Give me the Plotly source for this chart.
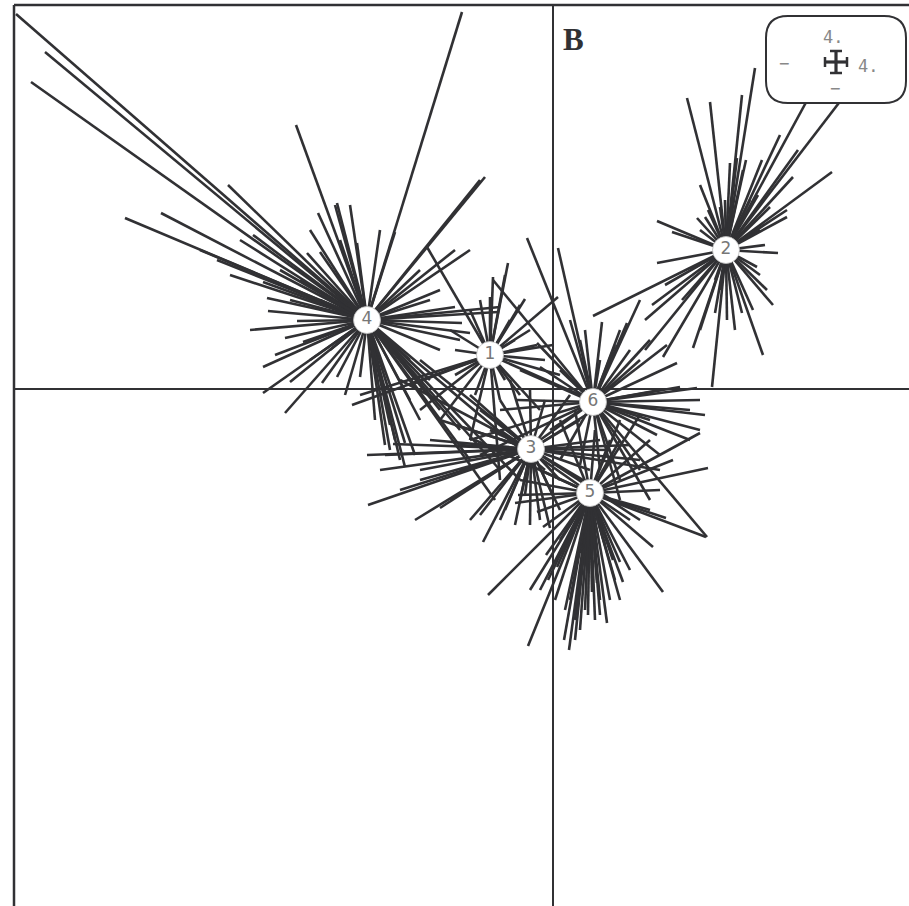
import plotly.graph_objects as go

# ---- data (factorial map coordinates) ----
class_labels = ["1", "2", "3", "4", "5", "6"]
centers_x = [-0.63, 1.73, -0.22, -1.86, 0.37, 0.40]
centers_y = [0.34, 1.39, -0.60, 0.69, -1.04, -0.13]

g1_x = [-1.26, -0.63, -0.45, -0.28, 0.05, 0.00, -0.16, -2.01, -1.93, -1.43, -1.33, -1.13, -0.83, -0.53,
        -0.08, 0.07, 0.27, -0.73, -0.83, -0.33, -0.48, -1.03, -0.98, -0.53, -0.33, -0.13, -0.78, -0.23, -0.60,
        -0.43, -0.38, -0.98, -0.93, -0.48]
g1_y = [1.42, 0.92, 1.26, 0.90, 0.92, 0.44, 0.44, -0.16, -0.06, 0.04, -0.21, -0.31, -0.51, -0.91,
        0.29, 0.14, -0.06, 0.89, 0.79, 0.84, 1.14, 0.59, 0.14, -0.11, -0.06, -0.21, -0.06, 0.59, 1.12,
        0.69, 0.49, 0.39, 0.24, 0.09]

g2_x = [1.34, 1.57, 1.89, 2.02, 1.93, 1.90, 2.27, 2.09, 2.45, 2.57, 2.92, 2.40, 2.79, 2.34, 2.17, 1.04,
        1.19, 1.44, 1.52, 2.12, 2.25, 2.04, 1.04, 0.40, 0.92, 0.99, 1.40, 1.59, 1.74, 1.62, 1.89, 2.10,
        2.20, 2.00, 1.10, 0.92, 1.55, 1.67, 1.77, 1.84, 2.07, 2.34, 1.29, 1.47, 1.82, 1.12, 2.14, 1.67, 2.05,
        1.47, 1.37, 1.62, 2.07, 1.97, 1.72, 1.47]
g2_y = [2.91, 2.87, 2.94, 3.21, 2.29, 2.19, 2.54, 2.29, 2.39, 2.94, 2.94, 2.12, 2.17, 1.79, 1.82, 1.68,
        1.57, 1.71, 1.72, 1.44, 1.36, 1.22, 1.26, 0.73, 0.69, 0.84, 0.41, 0.02, 0.69, 0.76, 0.76, 0.34,
        0.84, 0.79, 0.32, 0.39, 1.79, 1.82, 2.26, 2.31, 1.59, 1.72, 0.89, 0.59, 0.59, 1.04, 0.99, 0.99, 1.94,
        1.59, 1.19, 1.09, 1.14, 1.89, 1.89, 2.04]

g3_x = [-1.86, -1.68, -1.85, -1.38, -1.33, -1.13, -1.60, -0.28, -0.33, -0.48, -0.13, -0.03, -0.73, -0.70,
        -1.13, -1.53, -1.33, 0.47, 0.87, 1.07, 0.57, 0.27, -0.53, -0.83, -0.63, -0.93, -0.48, 0.02, 0.47,
        0.67, 0.87, 0.07, -1.23, -0.43, -0.23, -0.08, 0.17, -0.98,
        -1.73, -1.53, -1.33, -1.03, -0.83, -0.53, -0.38, -0.23, 0.07, 0.37, 0.57, 0.77, -0.93, -0.73]
g3_y = [-0.66, -0.66, -1.16, -1.31, -0.81, -0.31, -0.55, -1.06, -1.11, -1.21, -1.31, -1.39, -1.26, -1.53,
        -1.19, 0.09, 0.29, -0.51, -0.71, -0.81, -0.11, -0.31, -0.11, -0.06, -0.41, -0.81, -0.91, -1.11, -1.01,
        -1.16, -1.31, -0.91, -0.51, 0.09, -0.01, -0.11, -0.06, -0.36,
        -0.81, -1.01, -0.91, -1.11, -1.31, -1.31, -1.36, -1.36, -1.21, -0.81, -0.61, -0.56, -0.56, -0.21]

g4_x = [-5.37, -5.08, -5.22, -3.25, -3.00, -4.28, -3.92, -3.36, -2.90, -2.86, -2.85, -2.56, -2.68, -2.50,
        -2.90, -2.90, -2.63, -2.68, -2.31, -2.16, -2.57, -2.35, -2.16, -2.33, -2.46, -1.96, -1.58, -0.68,
        -0.73, -0.91, -1.93, -0.98, -0.53, -0.55, -0.91, -0.83, -1.48, -1.48, -1.58, -1.68, -0.98, -1.33,
        -1.13, -1.73, -2.03, -2.18, -3.53, -3.13, -3.23, -0.53, -0.33, -0.58, -0.83, -1.13, -1.33, -0.93,
        -0.08, -1.23, -1.43,
        -2.53, -2.33, -2.63, -3.03, -2.78, -2.43, -2.23, -2.08, -1.78, -1.63, -1.43, -1.13, -0.93, -1.23,
        -0.83, -2.13, -2.43, -2.33, -2.73, -1.53, -1.63, -1.38]
g4_y = [3.75, 3.37, 3.07, 2.04, 1.54, 1.71, 1.76, 1.29, 1.07, 0.91, 0.78, 0.68, 0.51, 0.47,
        0.22, -0.04, 0.07, -0.24, 0.06, 0.12, 2.64, 1.76, 1.86, 1.37, 1.36, 1.46, 1.57, 2.12,
        2.09, 3.77, 0.12, 0.82, 0.82, 0.77, 0.66, 0.56, -0.54, -0.78, -0.51, -0.56, 1.39, 1.19,
        0.99, 1.59, 1.84, 1.84, 1.39, 1.49, 1.14, -0.81, -0.91, -1.11, -0.71, -0.21, -0.31, -0.41,
        -0.81, 0.09, 0.29,
        1.09, 0.89, 0.89, 0.59, 0.34, 0.29, 0.39, -0.06, -0.31, -0.36, -0.11, 0.39, 0.49, 0.89,
        1.39, 1.49, 1.59, 1.09, 1.19, -0.71, -0.61, -0.66]

g5_x = [-0.65, -0.25, 0.11, 0.16, 0.39, 0.54, 0.70, 1.10, 1.00, 1.53, 1.13, 1.20, 1.55, -0.07, 0.04,
        0.27, 0.32, 0.44, 0.60, 0.67, -0.16, -0.10, -0.38, -0.35, 1.47, 0.07, 0.22, 0.67, 0.87, -0.53,
        -0.78, 0.17, 0.22, 0.35, 0.47, -0.05, -0.23, 0.77, 0.97, 1.07, -0.13, 0.57, 0.42, -0.33, 0.07,
        0.52, 0.62,
        0.22, 0.27, 0.32, 0.42, 0.47, 0.57, 0.12, 0.02, 0.67, 0.77, -0.13, 0.67, 0.97]
g5_y = [-2.06, -2.57, -2.51, -2.61, -2.03, -2.34, -1.93, -2.03, -1.58, -1.48, -1.29, -0.71, -0.79, -1.66,
        -1.78, -1.64, -1.74, -1.94, -1.71, -1.73, -1.23, -1.38, -1.14, -1.06, -0.44, -0.31, -0.21, -0.31,
        -0.26, -0.41, -0.51, -2.11, -2.31, -2.26, -2.11, -1.91, -2.01, -1.31, -1.21, -1.01, -0.81, -0.51,
        -0.41, -0.91, -1.51, -1.56, -1.91,
        -2.51, -2.41, -2.21, -2.31, -2.26, -2.11, -2.21, -2.11, -2.11, -1.81, -2.01, -0.51, -0.51]

g6_x = [-0.26, 0.05, 0.49, 0.74, 0.97, 1.14, -0.16, -0.36, -0.13, 1.24, 1.27, 1.44, 1.47, 1.52, -0.73,
        -0.83, 0.47, 0.67, 1.54, 1.04, 0.17, 0.32, 0.62, 0.87, 0.07, -0.53, -0.13, 0.07, 0.87, 1.07, 1.37,
        0.27, 0.97, -0.33, -0.60, 0.87,
        0.67, 0.77, 1.07, 1.37, 0.47, 0.27, 0.97, -0.03, 0.67, 1.47]
g6_y = [1.51, 1.41, 0.67, 0.66, 0.49, 0.44, 0.46, -0.11, 0.22, 0.26, 0.02, 0.01, -0.41, -0.26, -0.66,
        -0.51, -0.81, -0.91, -1.48, -0.46, 0.69, 0.59, 0.44, 0.29, 0.19, -0.21, -0.51, -0.71, -0.81, -0.66,
        -0.21, -0.76, -1.11, 0.19, 1.09, 0.89,
        0.59, 0.39, -0.01, -0.51, 0.29, 0.49, -0.31, -0.41, -1.11, -0.11]

groups_x = [g1_x, g2_x, g3_x, g4_x, g5_x, g6_x]
groups_y = [g1_y, g2_y, g3_y, g4_y, g5_y, g6_y]

# ---- layout geometry ----
W, H = 909, 906
ML, MT = 14, 5
X_RANGE = [-5.39, 3.56]
Y_RANGE = [-5.17, 3.84]
INK = "#313134"


def px2x(px):
    return X_RANGE[0] + (px - ML) * (X_RANGE[1] - X_RANGE[0]) / (W - ML)


def py2y(py):
    return Y_RANGE[1] - (py - MT) * (Y_RANGE[1] - Y_RANGE[0]) / (H - MT)


fig = go.Figure()

# star segments
for cx, cy, gx, gy in zip(centers_x, centers_y, groups_x, groups_y):
    xs, ys = [], []
    for x, y in zip(gx, gy):
        xs += [cx, x, None]
        ys += [cy, y, None]
    fig.add_trace(go.Scatter(x=xs, y=ys, mode="lines",
                             line=dict(color=INK, width=2.6),
                             hoverinfo="skip", showlegend=False))

# class labels
fig.add_trace(go.Scatter(x=centers_x, y=centers_y, mode="markers+text",
                         text=class_labels, textposition="middle center",
                         textfont=dict(family="DejaVu Sans", size=17, color="#777777"),
                         marker=dict(size=27, color="white", line=dict(width=0.8, color="#bbbbbb")),
                         hoverinfo="skip", showlegend=False))

shapes = []
# axes through the origin
shapes.append(dict(type="line", xref="x", yref="paper", x0=0, x1=0, y0=0, y1=1,
                   line=dict(color=INK, width=2), layer="below"))
shapes.append(dict(type="line", xref="paper", yref="y", x0=0, x1=1, y0=0, y1=0,
                   line=dict(color=INK, width=2), layer="below"))
# frame (left and top)
shapes.append(dict(type="line", xref="paper", yref="paper", x0=0, x1=0, y0=0, y1=1,
                   line=dict(color=INK, width=2.5)))
shapes.append(dict(type="line", xref="paper", yref="paper", x0=0, x1=1, y0=1, y1=1,
                   line=dict(color=INK, width=2.5)))

# key box (rounded rectangle)
bx0, bx1, by0, by1, r = 766, 906, 16, 103, 22
path = (f"M {px2x(bx0 + r)},{py2y(by0)} L {px2x(bx1 - r)},{py2y(by0)} "
        f"Q {px2x(bx1)},{py2y(by0)} {px2x(bx1)},{py2y(by0 + r)} "
        f"L {px2x(bx1)},{py2y(by1 - r)} Q {px2x(bx1)},{py2y(by1)} {px2x(bx1 - r)},{py2y(by1)} "
        f"L {px2x(bx0 + r)},{py2y(by1)} Q {px2x(bx0)},{py2y(by1)} {px2x(bx0)},{py2y(by1 - r)} "
        f"L {px2x(bx0)},{py2y(by0 + r)} Q {px2x(bx0)},{py2y(by0)} {px2x(bx0 + r)},{py2y(by0)} Z")
shapes.append(dict(type="path", xref="x", yref="y", path=path, fillcolor="white",
                   line=dict(color=INK, width=2)))

# cross glyph in key box
cx0, cy0 = 836, 62


def seg(x0, y0, x1, y1, w=3):
    return dict(type="line", xref="x", yref="y", x0=px2x(x0), y0=py2y(y0), x1=px2x(x1), y1=py2y(y1),
                line=dict(color=INK, width=w))


shapes += [seg(cx0 - 11, cy0, cx0 + 11, cy0, 3.2), seg(cx0, cy0 - 11, cx0, cy0 + 11, 3.2),
           seg(cx0 - 11, cy0 - 5, cx0 - 11, cy0 + 5, 2.5), seg(cx0 + 11, cy0 - 5, cx0 + 11, cy0 + 5, 2.5),
           seg(cx0 - 6, cy0 - 11, cx0 + 6, cy0 - 11, 2.5), seg(cx0 - 6, cy0 + 11, cx0 + 6, cy0 + 11, 2.5)]

mono = dict(family="DejaVu Sans Mono", size=17, color="#888888")
annotations = [
    dict(x=px2x(573), y=py2y(39), text="<b>B</b>", showarrow=False,
         font=dict(family="Liberation Serif", size=31, color=INK)),
    dict(x=px2x(833), y=py2y(37), text="4.", showarrow=False, font=mono),
    dict(x=px2x(868), y=py2y(66), text="4.", showarrow=False, font=mono),
    dict(x=px2x(784), y=py2y(63), text="−", showarrow=False, font=mono),
    dict(x=px2x(835), y=py2y(88), text="−", showarrow=False, font=mono),
]

fig.update_layout(
    width=W, height=H,
    margin=dict(l=ML, r=0, t=MT, b=0),
    paper_bgcolor="white", plot_bgcolor="white",
    xaxis=dict(range=X_RANGE, visible=False, fixedrange=True),
    yaxis=dict(range=Y_RANGE, visible=False, fixedrange=True),
    shapes=shapes, annotations=annotations, showlegend=False,
)

fig.write_html("out.html", config={"displayModeBar": False},
               post_script="document.body.style.margin='0';document.body.style.overflow='hidden';")
